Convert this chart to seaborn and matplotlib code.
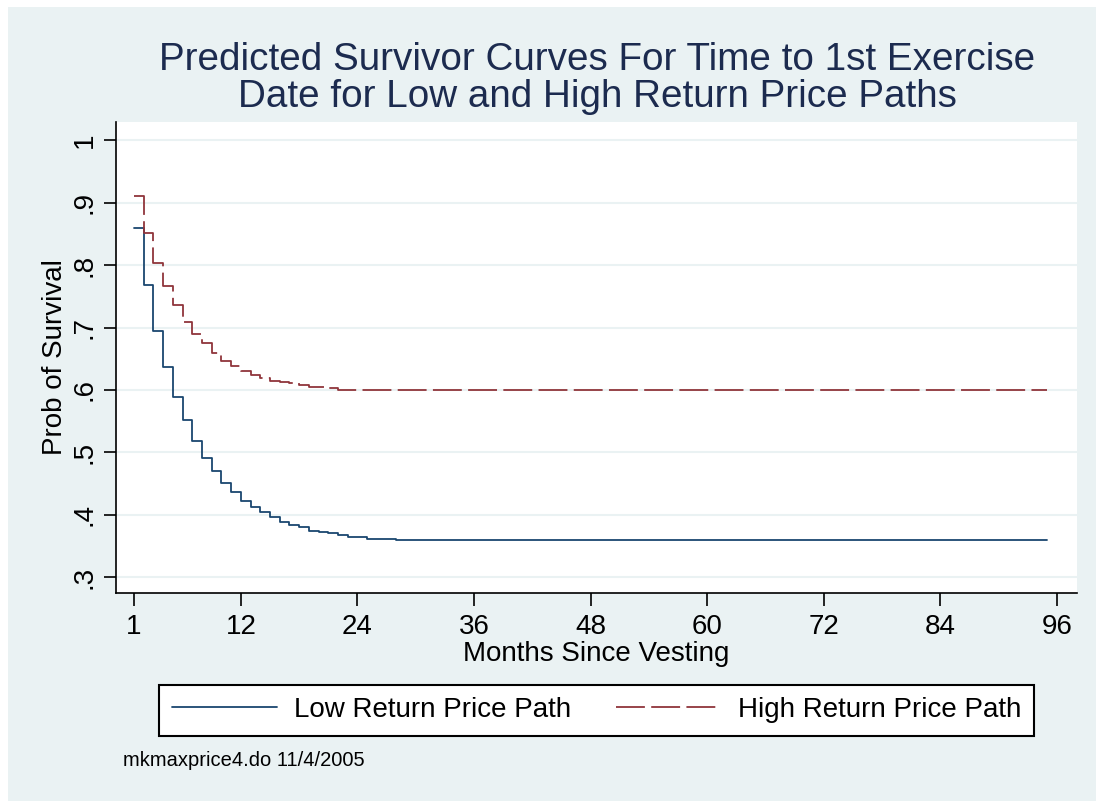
import pandas as pd
import seaborn as sns
import matplotlib.pyplot as plt
from matplotlib.patches import Rectangle

# predicted survivor curves (step at each month)
low_months = [1, 2, 3, 4, 5, 6, 7, 8, 9, 10, 11, 12, 13, 14, 15, 16, 17, 18, 19, 20,
              21, 22, 23, 24, 25, 26, 27, 28, 95]
low_surv = [0.859, 0.768, 0.695, 0.636, 0.588, 0.552, 0.518, 0.491, 0.471, 0.451,
            0.436, 0.423, 0.412, 0.404, 0.396, 0.389, 0.384, 0.380, 0.375, 0.372,
            0.371, 0.368, 0.365, 0.364, 0.362, 0.362, 0.361, 0.360, 0.360]

high_months = [1, 2, 3, 4, 5, 6, 7, 8, 9, 10, 11, 12, 13, 14, 15, 16, 17, 18, 19, 20,
               21, 22, 95]
high_surv = [0.911, 0.851, 0.804, 0.766, 0.736, 0.709, 0.689, 0.675, 0.660, 0.646,
             0.639, 0.630, 0.624, 0.619, 0.615, 0.613, 0.611, 0.608, 0.605, 0.604,
             0.603, 0.600, 0.600]

x_ticks = [1, 12, 24, 36, 48, 60, 72, 84, 96]
y_ticks = [0.3, 0.4, 0.5, 0.6, 0.7, 0.8, 0.9, 1.0]
y_ticklabels = [".3", ".4", ".5", ".6", ".7", ".8", ".9", "1"]

low_name = "Low Return Price Path"
high_name = "High Return Price Path"

df = pd.concat([
    pd.DataFrame({"month": low_months, "surv": low_surv, "path": low_name}),
    pd.DataFrame({"month": high_months, "surv": high_surv, "path": high_name}),
])

sns.set_theme(style="white")
plt.rcParams["font.family"] = ["Liberation Sans", "DejaVu Sans"]

bg = "#eaf2f3"
blue = "#1a476f"
red = "#90353b"

fig = plt.figure(figsize=(10.96, 8.01), dpi=100, facecolor="white")
fig.patches.append(Rectangle((8 / 1096, 0), 1, 1 - 7 / 801, transform=fig.transFigure,
                             facecolor=bg, edgecolor="none", zorder=-10))
ax = fig.add_axes([116 / 1096, 1 - 593 / 801, (1077 - 116) / 1096, (593 - 122) / 801])
ax.set_facecolor("white")

sns.lineplot(data=df, x="month", y="surv", hue="path", style="path",
             palette={low_name: blue, high_name: red},
             dashes={low_name: "", high_name: (16, 3.5)},
             drawstyle="steps-post", linewidth=1.3, errorbar=None, ax=ax, legend=False)

ax.set_xlim(-0.85, 98.06)
ax.set_ylim(0.275, 1.029)
ax.set_xticks(x_ticks)
ax.set_xticklabels([str(t) for t in x_ticks], fontsize=20)
ax.set_yticks(y_ticks)
ax.set_yticklabels(y_ticklabels, fontsize=20, rotation=90, va="center")
ax.tick_params(axis="both", direction="out", length=9, width=1.2, color="black",
               labelcolor="black", pad=4)
ax.tick_params(axis="x", bottom=True, pad=6)
ax.tick_params(axis="y", left=True)
ax.grid(axis="y", color=bg, linewidth=1.5)
ax.grid(axis="x", visible=False)
for s in ["top", "right"]:
    ax.spines[s].set_visible(False)
for s in ["left", "bottom"]:
    ax.spines[s].set_color("black")
    ax.spines[s].set_linewidth(1.2)

ax.set_xlabel("Months Since Vesting", fontsize=20, color="black", labelpad=1)
ax.set_ylabel("Prob of Survival", fontsize=20, color="black", labelpad=3)

fig.text(597 / 1096, 1 - 42 / 801,
         "Predicted Survivor Curves For Time to 1st Exercise\nDate for Low and High Return Price Paths",
         ha="center", va="top", fontsize=27.8, color="#1c2b4f", linespacing=1.02)

lines = ax.get_lines()
handles = [lines[0], lines[1]]
leg = fig.legend(handles, [low_name, high_name], loc="center",
                 bbox_to_anchor=(596.5 / 1096, 1 - 710 / 801), ncol=2, fontsize=20,
                 handlelength=3.8, handletextpad=0.6, columnspacing=1.6,
                 frameon=True, fancybox=False, framealpha=1, borderpad=0.45)
leg.get_frame().set_edgecolor("black")
leg.get_frame().set_linewidth(1.5)
for t in leg.get_texts():
    t.set_color("black")

fig.text(123 / 1096, 1 - 760 / 801, "mkmaxprice4.do 11/4/2005", ha="left", va="center",
         fontsize=14.5, color="black")

fig.savefig("out.png", dpi=100, facecolor=fig.get_facecolor())
